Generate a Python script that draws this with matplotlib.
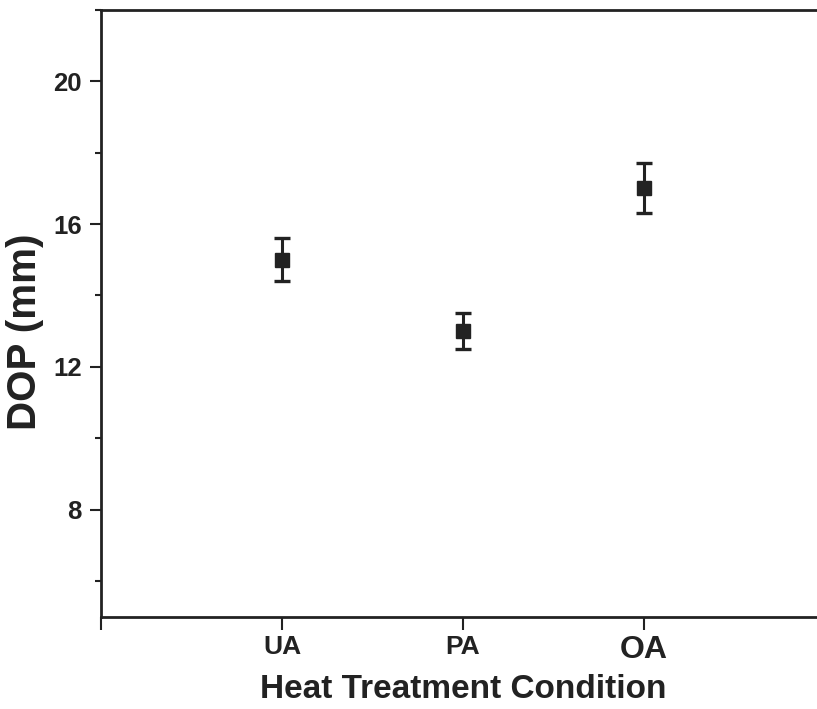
"""
DOP versus heat treatment condition, with error bars
"""

import matplotlib

matplotlib.use("Agg")
import matplotlib.pyplot as plt
from matplotlib.ticker import MultipleLocator

plt.rcParams["font.family"] = ["Liberation Sans", "DejaVu Sans"]
plt.rcParams["font.weight"] = "bold"

# data
conditions = ["UA", "PA", "OA"]
positions = [1, 2, 3]
dop_mm = [15.0, 13.0, 17.0]
dop_err = [0.6, 0.5, 0.7]

INK = "#222222"

fig = plt.figure(figsize=(8.17, 7.09), dpi=100)
ax = fig.add_axes([0.1236, 0.1302, 0.886, 0.8557])

ax.errorbar(
    positions,
    dop_mm,
    yerr=dop_err,
    fmt="s",
    color=INK,
    markersize=10.5,
    elinewidth=2.2,
    capsize=5.5,
    capthick=2.4,
)

ax.set_xlim(0, 4)
ax.set_ylim(5, 22)

# ticks at 0..4, labels only for the three conditions
ax.set_xticks([0] + positions + [4])
ax.set_xticklabels([""] + conditions + [""])
for lab in ax.get_xticklabels():
    if lab.get_text() == "OA":
        lab.set_fontsize(23)
    else:
        lab.set_fontsize(19)

ax.yaxis.set_minor_locator(MultipleLocator(2))
ax.set_yticks([8, 12, 16, 20])

ax.tick_params(axis="y", which="major", length=8, width=1.5, labelsize=18.5,
               colors=INK, pad=6)
ax.tick_params(axis="y", which="minor", length=4, width=1.5, colors=INK)
ax.tick_params(axis="x", which="major", length=9, width=1.5, colors=INK, pad=4)

for side in ["left", "bottom", "top"]:
    ax.spines[side].set_linewidth(2)
    ax.spines[side].set_color(INK)
ax.spines["right"].set_visible(False)

ax.set_ylabel("DOP (mm)", fontsize=29, fontweight="bold", color=INK)
ax.yaxis.set_label_coords(-0.079, 0.47)
ax.set_xlabel("Heat Treatment Condition", fontsize=24, fontweight="bold",
              color=INK, labelpad=7)

plt.savefig("out.png", dpi=100)
